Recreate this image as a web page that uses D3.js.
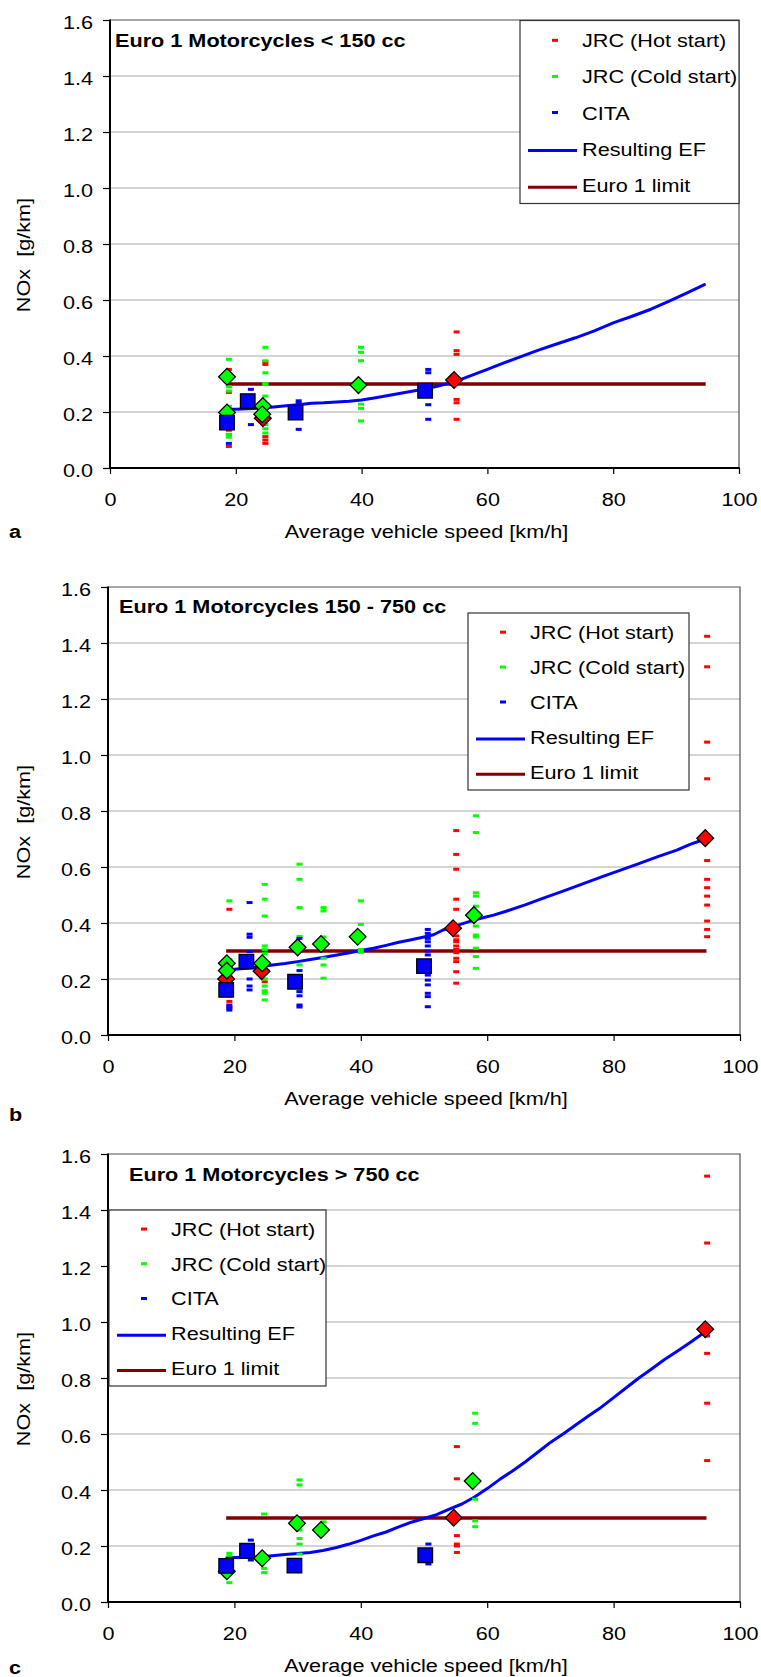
<!DOCTYPE html>
<html>
<head>
<meta charset="utf-8">
<script src="https://cdn.jsdelivr.net/npm/d3@7"></script>
<style>
  html, body { margin: 0; padding: 0; background: #fff; }
  svg text { font-family: "Liberation Sans", Arial, Helvetica, sans-serif; white-space: pre; }
</style>
</head>
<body>
<svg id="chart" width="761" height="1677"></svg>
<script>
// ---------- shared axis / label data ----------
const speedTicks = [0, 20, 40, 60, 80, 100];
const noxTicks = [0, 0.2, 0.4, 0.6, 0.8, 1.0, 1.2, 1.4, 1.6];
const panelLetters = ["a", "b", "c"];
const panelTitles = [
  "Euro 1 Motorcycles < 150 cc",
  "Euro 1 Motorcycles 150 - 750 cc",
  "Euro 1 Motorcycles > 750 cc"
];
const legendLabels = ["JRC (Hot start)", "JRC (Cold start)", "CITA", "Resulting EF", "Euro 1 limit"];
const xTitle = "Average vehicle speed [km/h]";
const yTitle = "NOx  [g/km]";
const euroLimit = 0.3;
const limitSpan = [18.7, 94.7];

// ---------- panel a: < 150 cc ----------
const hotA = [
  [18.9, [0.352, 0.27, 0.148, 0.135, 0.12, 0.077]],
  [24.7, [0.38, 0.37, 0.30, 0.18, 0.112, 0.10, 0.088]],
  [55.1, [0.486, 0.419, 0.406, 0.245, 0.233, 0.174]]
];
const coldA = [
  [18.9, [0.388, 0.33, 0.29, 0.275, 0.22, 0.18, 0.12, 0.11]],
  [24.7, [0.431, 0.383, 0.34, 0.302, 0.298, 0.257, 0.22, 0.17, 0.155, 0.14, 0.125]],
  [39.9, [0.431, 0.413, 0.383, 0.228, 0.213, 0.168]]
];
const citaA = [
  [18.9, [0.195, 0.17, 0.088]],
  [22.4, [0.281, 0.155]],
  [30.0, [0.24, 0.232, 0.138]],
  [50.6, [0.352, 0.34, 0.226, 0.174]]
];
const hotMeanA = [[24.3, 0.178], [54.7, 0.314]];
const coldMeanA = [[18.6, 0.326], [18.6, 0.198], [24.3, 0.221], [24.2, 0.192], [39.5, 0.296]];
const citaMeanA = [[18.6, 0.162], [21.9, 0.239], [29.5, 0.198], [50.1, 0.276]];
const efSpeedA = [18.7, 20, 22, 24, 26, 28, 30, 32, 34, 36, 38, 40, 42, 44, 46, 48, 50, 52, 54, 56, 58, 60, 62, 65, 68, 71, 74, 77, 80, 83, 86, 89, 92, 94.5];
const efA = [0.21, 0.21, 0.212, 0.213, 0.218, 0.222, 0.226, 0.231, 0.233, 0.236, 0.238, 0.243, 0.25, 0.258, 0.266, 0.274, 0.282, 0.292, 0.303, 0.318, 0.335, 0.352, 0.37, 0.395, 0.42, 0.443, 0.465, 0.49, 0.518, 0.542, 0.567, 0.597, 0.628, 0.655];

// ---------- panel b: 150 - 750 cc ----------
const hotB = [
  [19.2, [0.449, 0.21, 0.19, 0.14, 0.12, 0.10]],
  [24.8, [0.19]],
  [55.1, [0.73, 0.645, 0.592, 0.485, 0.449, 0.354, 0.34, 0.333, 0.318, 0.306, 0.294, 0.274, 0.262, 0.226, 0.185]],
  [94.8, [1.424, 1.315, 1.046, 0.915, 0.623, 0.556, 0.526, 0.496, 0.464, 0.407, 0.377, 0.351]]
];
const coldB = [
  [19.2, [0.479, 0.27, 0.24]],
  [24.8, [0.538, 0.485, 0.425, 0.318, 0.305, 0.29, 0.22, 0.2, 0.175, 0.158, 0.149, 0.125]],
  [30.3, [0.61, 0.556, 0.455, 0.352, 0.25, 0.155]],
  [34.1, [0.455, 0.443, 0.35, 0.274, 0.25, 0.203]],
  [40.0, [0.479, 0.395, 0.305, 0.295]],
  [58.2, [0.783, 0.723, 0.508, 0.496, 0.46, 0.389, 0.357, 0.35, 0.31, 0.28, 0.238]]
];
const citaB = [
  [19.2, [0.26, 0.2, 0.107, 0.097, 0.089]],
  [22.4, [0.473, 0.36, 0.349, 0.298, 0.2, 0.175, 0.161]],
  [30.3, [0.345, 0.3, 0.23, 0.208, 0.17, 0.155, 0.14, 0.107, 0.1]],
  [50.6, [0.377, 0.363, 0.345, 0.333, 0.318, 0.3, 0.286, 0.264, 0.244, 0.226, 0.214, 0.196, 0.179, 0.149, 0.137, 0.101]]
];
const hotMeanB = [[18.7, 0.2], [24.3, 0.228], [54.6, 0.381], [94.5, 0.703]];
const coldMeanB = [[18.8, 0.256], [18.8, 0.23], [24.4, 0.256], [30.0, 0.313], [33.7, 0.325], [39.5, 0.351], [57.9, 0.428]];
const citaMeanB = [[18.7, 0.161], [21.9, 0.262], [29.6, 0.19], [50.0, 0.246]];
const efSpeedB = [18.8, 20, 22, 24, 26, 28, 30, 32, 34, 36, 38, 40, 42, 44, 46, 48, 50, 51.5, 53, 55, 57, 59, 61, 63, 66, 69, 72, 75, 78, 81, 84, 87, 90, 92, 94.5];
const efB = [0.23, 0.235, 0.238, 0.244, 0.25, 0.255, 0.262, 0.27, 0.277, 0.285, 0.293, 0.302, 0.31, 0.32, 0.331, 0.34, 0.35, 0.358, 0.375, 0.39, 0.404, 0.417, 0.428, 0.442, 0.465, 0.49, 0.514, 0.539, 0.564, 0.588, 0.612, 0.637, 0.66, 0.68, 0.70];

// ---------- panel c: > 750 cc ----------
const hotC = [
  [55.2, [0.555, 0.44, 0.237, 0.207, 0.2, 0.177]],
  [94.8, [1.521, 1.282, 0.95, 0.888, 0.71, 0.505]]
];
const coldC = [
  [19.2, [0.174, 0.165, 0.1, 0.069]],
  [24.7, [0.314, 0.12, 0.105]],
  [30.3, [0.436, 0.418, 0.257, 0.227, 0.207, 0.171]],
  [34.1, [0.286, 0.27]],
  [58.1, [0.674, 0.638, 0.367, 0.29, 0.269]]
];
const citaC = [
  [19.2, [0.156, 0.14]],
  [22.6, [0.221, 0.2, 0.15]],
  [50.7, [0.207, 0.136]]
];
const hotMeanC = [[54.7, 0.301], [94.5, 0.974]];
const coldMeanC = [[18.8, 0.11], [24.4, 0.156], [29.9, 0.281], [33.7, 0.257], [57.7, 0.432]];
const citaMeanC = [[18.7, 0.129], [22.0, 0.183], [29.5, 0.13], [50.2, 0.167]];
const efSpeedC = [18.8, 20, 22, 24, 26, 28, 30, 32, 34, 36, 38, 40, 42, 44, 46, 48, 50, 52, 54, 56, 58, 60, 62, 64, 66, 68, 70, 72, 74, 76, 78, 80, 82, 84, 86, 88, 90, 92, 94.5];
const efC = [0.158, 0.159, 0.16, 0.161, 0.165, 0.17, 0.173, 0.177, 0.184, 0.194, 0.206, 0.22, 0.236, 0.25, 0.268, 0.285, 0.298, 0.312, 0.332, 0.35, 0.375, 0.405, 0.438, 0.468, 0.5, 0.535, 0.57, 0.6, 0.632, 0.664, 0.695, 0.73, 0.765, 0.8, 0.832, 0.865, 0.895, 0.925, 0.965];

// ---------- styling ----------
const FONT = 19;        // px
const SX = 1.14;        // horizontal stretch of the lettering
const COL_HOT = "#ff0000", COL_COLD = "#00ff00", COL_CITA = "#0000ff";
const COL_EF = "#0000ff", COL_LIMIT = "#800000";

// panel placement (plot rectangle, legend box, title anchor, letter baseline)
const layout = [
  { L: 110, R: 739, T: 20, B: 468, legend: [520, 20.5, 219, 183], title: [115, 47], letterY: 538 },
  { L: 108, R: 740, T: 587, B: 1035, legend: [468, 613, 221, 177], title: [119, 613], letterY: 1121 },
  { L: 108, R: 740, T: 1154, B: 1602, legend: [109, 1210, 217, 176], title: [129, 1181], letterY: 1674 }
];

const panelData = [
  { hot: hotA, cold: coldA, cita: citaA, hotMean: hotMeanA, coldMean: coldMeanA, citaMean: citaMeanA, efSpeed: efSpeedA, ef: efA },
  { hot: hotB, cold: coldB, cita: citaB, hotMean: hotMeanB, coldMean: coldMeanB, citaMean: citaMeanB, efSpeed: efSpeedB, ef: efB },
  { hot: hotC, cold: coldC, cita: citaC, hotMean: hotMeanC, coldMean: coldMeanC, citaMean: citaMeanC, efSpeed: efSpeedC, ef: efC }
];

const svg = d3.select("#chart");

// stretched text helper: anchor point (x,y), optional rotation
function label(parent, x, y, str, opts = {}) {
  const rot = opts.rotate ? ` rotate(${opts.rotate})` : "";
  return parent.append("text")
    .attr("transform", `translate(${x},${y})${rot} scale(${SX},1)`)
    .attr("text-anchor", opts.anchor || "start")
    .attr("font-size", opts.size || FONT)
    .attr("font-weight", opts.bold ? "bold" : "normal")
    .attr("fill", "#000")
    .attr("xml:space", "preserve")
    .text(str);
}

const diamond = d3.symbol(d3.symbolSquare, 140);
const square = d3.symbol(d3.symbolSquare, 212);

layout.forEach((lay, i) => {
  const data = panelData[i];
  const g = svg.append("g");
  const x = d3.scaleLinear().domain([0, 100]).range([lay.L, lay.R]);
  const y = d3.scaleLinear().domain([0, 1.6]).range([lay.B, lay.T]);

  // horizontal gridlines
  g.append("g").selectAll("line")
    .data(noxTicks.filter(v => v > 0 && v < 1.6))
    .join("line")
    .attr("x1", lay.L).attr("x2", lay.R)
    .attr("y1", d => y(d)).attr("y2", d => y(d))
    .attr("stroke", "#c6c6c6").attr("stroke-width", 1.3);

  // top and right frame
  g.append("path")
    .attr("d", `M${lay.L},${lay.T}H${lay.R}V${lay.B}`)
    .attr("fill", "none").attr("stroke", "#505050").attr("stroke-width", 1.2);

  // y axis
  const gy = g.append("g")
    .attr("transform", `translate(${lay.L},0)`)
    .call(d3.axisLeft(y).tickValues(noxTicks).tickSize(7).tickFormat(d3.format(".1f")));
  gy.select(".domain").remove();
  gy.selectAll(".tick line").attr("stroke", "#000").attr("stroke-width", 1.2);
  gy.selectAll(".tick text")
    .attr("x", null).attr("dy", null)
    .attr("transform", `translate(-17,8) scale(${SX},1)`)
    .attr("font-size", FONT).attr("fill", "#000")
    .attr("font-family", '"Liberation Sans", Arial, sans-serif');

  // x axis
  const gx = g.append("g")
    .attr("transform", `translate(0,${lay.B})`)
    .call(d3.axisBottom(x).tickValues(speedTicks).tickSize(6).tickFormat(d3.format("d")));
  gx.select(".domain").remove();
  gx.selectAll(".tick line").attr("stroke", "#000").attr("stroke-width", 1.2);
  gx.selectAll(".tick text")
    .attr("y", null).attr("dy", null)
    .attr("transform", `translate(0,38) scale(${SX},1)`)
    .attr("font-size", FONT).attr("fill", "#000")
    .attr("font-family", '"Liberation Sans", Arial, sans-serif');

  // axis lines
  g.append("line").attr("x1", lay.L).attr("x2", lay.L).attr("y1", lay.T - 0.6).attr("y2", lay.B + 1)
    .attr("stroke", "#000").attr("stroke-width", 2);
  g.append("line").attr("x1", lay.L - 1).attr("x2", lay.R + 0.6).attr("y1", lay.B).attr("y2", lay.B)
    .attr("stroke", "#000").attr("stroke-width", 2);

  // Euro 1 limit
  g.append("line")
    .attr("x1", x(limitSpan[0])).attr("x2", x(limitSpan[1]))
    .attr("y1", y(euroLimit)).attr("y2", y(euroLimit))
    .attr("stroke", COL_LIMIT).attr("stroke-width", 3.5);

  // resulting emission factor curve
  g.append("path")
    .datum(d3.zip(data.efSpeed, data.ef))
    .attr("d", d3.line().x(d => x(d[0])).y(d => y(d[1])))
    .attr("fill", "none").attr("stroke", COL_EF).attr("stroke-width", 3)
    .attr("stroke-linejoin", "round").attr("stroke-linecap", "round");

  // individual measurements as short dashes
  const dashes = (series, color) => {
    const pts = [];
    series.forEach(([s, vals]) => vals.forEach(v => pts.push([s, v])));
    g.append("g").selectAll("rect").data(pts).join("rect")
      .attr("x", d => x(d[0]) - 3).attr("y", d => y(d[1]) - 1.5)
      .attr("width", 6).attr("height", 3)
      .attr("fill", color);
  };
  dashes(data.hot, COL_HOT);
  dashes(data.cold, COL_COLD);
  dashes(data.cita, COL_CITA);

  // cycle averages
  const means = (pts, color, sym, rot) => {
    g.append("g").selectAll("path").data(pts).join("path")
      .attr("d", sym)
      .attr("transform", d => `translate(${x(d[0])},${y(d[1])})${rot ? " rotate(45)" : ""}`)
      .attr("fill", color).attr("stroke", "#000").attr("stroke-width", 1.3);
  };
  means(data.hotMean, COL_HOT, diamond, true);
  means(data.coldMean, COL_COLD, diamond, true);
  means(data.citaMean, COL_CITA, square, false);

  // panel title
  label(g, lay.title[0], lay.title[1], panelTitles[i], { bold: true });

  // legend
  const [bx, by, bw, bh] = lay.legend;
  const lg = g.append("g");
  lg.append("rect").attr("x", bx).attr("y", by).attr("width", bw).attr("height", bh)
    .attr("fill", "#fff").attr("stroke", "#333").attr("stroke-width", 1.2);
  const rows = [19.5, 55, 90.5, 126, 162];
  const legendColors = [COL_HOT, COL_COLD, COL_CITA, COL_EF, COL_LIMIT];
  legendLabels.forEach((lab, k) => {
    const ry = by + rows[k] * bh / 180;
    if (k < 3) {
      lg.append("rect").attr("x", bx + 35 - 3).attr("y", ry - 1.5).attr("width", 6).attr("height", 3)
        .attr("fill", legendColors[k]);
    } else {
      lg.append("line").attr("x1", bx + 8).attr("x2", bx + 57).attr("y1", ry + 2).attr("y2", ry + 2)
        .attr("stroke", legendColors[k]).attr("stroke-width", 3);
    }
    label(lg, bx + 62, ry + 7, lab);
  });

  // axis titles and panel letter
  label(g, (lay.L + lay.R) / 2 + 2, lay.B + 70, xTitle, { anchor: "middle" });
  label(g, 30, (lay.T + lay.B) / 2 + 11, yTitle, { anchor: "middle", rotate: -90 });
  label(g, 9, lay.letterY, panelLetters[i], { bold: true });
});
</script>
</body>
</html>
